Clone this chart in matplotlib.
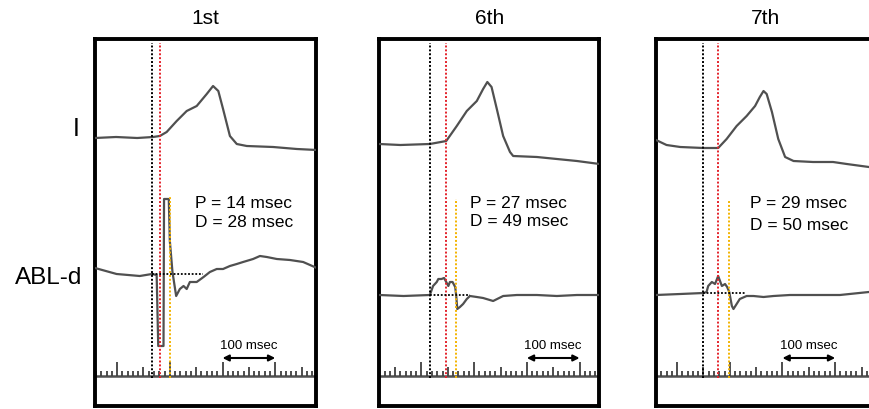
import matplotlib.pyplot as plt

plt.rcParams['font.family'] = ['Liberation Sans', 'DejaVu Sans']

# ---- data (time in msec from left edge of each panel, amplitude in arbitrary units)
titles = ['1st', '6th', '7th']
p_msec = [14, 27, 29]
d_msec = [28, 49, 50]

i_t = [
    [0, 40, 80, 110, 123, 136, 155, 174, 193, 212, 224, 234, 243, 256, 269, 288, 338, 383, 421],
    [0, 40, 96, 127, 147, 166, 185, 197, 205, 213, 223, 235, 248, 254, 299, 337, 375, 418],
    [0, 20, 46, 90, 118, 134, 153, 172, 188, 197, 204, 210, 220, 232, 245, 261, 298, 336, 362, 404, 418],
]
i_v = [
    [268, 269, 268, 269, 270, 274, 285, 295, 300, 312, 320, 315, 297, 270, 262, 260, 259, 257, 256],
    [262, 261, 262, 265, 280, 295, 305, 317, 324, 319, 297, 270, 254, 250, 249, 247, 245, 242],
    [266, 261, 259, 258, 258, 267, 280, 290, 300, 309, 315, 312, 294, 267, 249, 245, 244, 244, 242, 239, 238],
]

abl_t = [
    [0, 41, 85, 108, 117, 120, 130, 131, 140, 142, 147, 154, 161, 168, 174, 180, 193, 206, 218, 231,
     243, 256, 269, 281, 300, 313, 326, 345, 370, 395, 421],
    [0, 46, 96, 102, 109, 112, 118, 123, 127, 131, 134, 139, 144, 146, 148, 153, 159, 166, 172, 185,
     197, 216, 235, 261, 299, 337, 375, 418],
    [0, 46, 90, 96, 99, 106, 112, 118, 125, 131, 135, 139, 144, 147, 153, 159, 172, 185, 204, 223,
     254, 298, 349, 404, 418],
]
abl_v = [
    [138, 132, 130, 132, 131, 60, 60, 207, 207, 165, 134, 110, 117, 120, 117, 124, 124, 129, 134, 137,
     137, 140, 142, 144, 147, 150, 149, 147, 146, 144, 138],
    [111, 110, 111, 120, 124, 127, 127, 128, 124, 120, 124, 124, 119, 110, 97, 99, 102, 107, 110, 109,
     108, 105, 110, 111, 111, 110, 111, 111],
    [111, 112, 113, 114, 120, 124, 122, 130, 120, 122, 119, 114, 100, 97, 102, 107, 110, 110, 109, 110,
     111, 111, 111, 114, 115],
]

onset_t = [109, 96, 90]        # black dotted line
red_t = [123, 127, 118]        # red dotted line
yellow_t = [142, 146, 139]     # yellow dotted line
yellow_top = [209, 207, 205]
ref_end = [205, 172, 169]      # end of horizontal dotted reference
ref_v = [132, 111, 113]
tick_phase = [42, 80, 40]      # position of first 100-msec tick

# ---- layout (pixels of a 869x410 canvas)
W, H = 869, 410
lefts = [95, 379.3, 656]
widths = [221, 220, 220]
top, bottom = 40, 407
px_per_ms = 0.527

fig = plt.figure(figsize=(W / 100, H / 100), dpi=100)

for n in range(3):
    ax = fig.add_axes([lefts[n] / W, (H - bottom) / H, widths[n] / W, (bottom - top) / H])
    xmax = widths[n] / px_per_ms
    ymax = bottom - top
    ax.set_xlim(0, xmax)
    ax.set_ylim(0, ymax)
    ax.set_xticks([])
    ax.set_yticks([])
    for s in ax.spines.values():
        s.set_linewidth(2.8)
        s.set_color('black')

    # traces
    ax.plot(i_t[n], i_v[n], color='#505050', lw=1.6, zorder=3)
    ax.plot(abl_t[n], abl_v[n], color='#505050', lw=1.6, zorder=3)

    # time ruler
    base = 30
    ax.axhline(base, color='#505050', lw=1.8)
    t = tick_phase[n] - 100
    k = 0
    while t <= xmax:
        if t >= 1:
            if k % 10 == 0:
                h = 14
            elif k % 10 == 5:
                h = 9
            else:
                h = 5
            ax.vlines(t, base, base + h, color='#404040', lw=1.3)
        t += 10
        k += 1

    # markers
    dots = (0, (1, 1))
    ax.vlines(onset_t[n], base - 2, ymax - 4, color='black', lw=1.4, linestyles=[dots], zorder=4)
    ax.vlines(red_t[n], base - 2, ymax - 4, color='#e4222b', lw=1.4, linestyles=[dots], zorder=4)
    ax.vlines(yellow_t[n], base - 2, yellow_top[n], color='#f4b400', lw=1.4, linestyles=[dots], zorder=4)
    ax.hlines(ref_v[n], onset_t[n], ref_end[n], color='black', lw=1.3, linestyles=[dots], zorder=4)

    # P / D text
    tx = [190, 172, 178][n]
    ax.text(tx, 204, f'P = {p_msec[n]} msec', fontsize=12.5, va='center', ha='left')
    ax.text(tx, [184, 185, 181][n], f'D = {d_msec[n]} msec', fontsize=12.5, va='center', ha='left')

    # 100 msec scale
    a0 = tick_phase[n] + 200
    ax.annotate('', xy=(a0 + 100, 48), xytext=(a0, 48),
                arrowprops=dict(arrowstyle='<|-|>', color='black', lw=1.5, mutation_scale=9, shrinkA=0, shrinkB=0))
    ax.text(a0 + 50, 61, '100 msec', fontsize=9.5, ha='center', va='center')

    ax.text(0.5, 1 + 22 / ymax, titles[n], transform=ax.transAxes, fontsize=15, ha='center', va='center')

fig.text(80 / W, 1 - 129 / H, 'I', fontsize=18, ha='right', va='center')
fig.text(82 / W, 1 - 278 / H, 'ABL-d', fontsize=17.5, ha='right', va='center')

plt.savefig('out.png', dpi=100)
